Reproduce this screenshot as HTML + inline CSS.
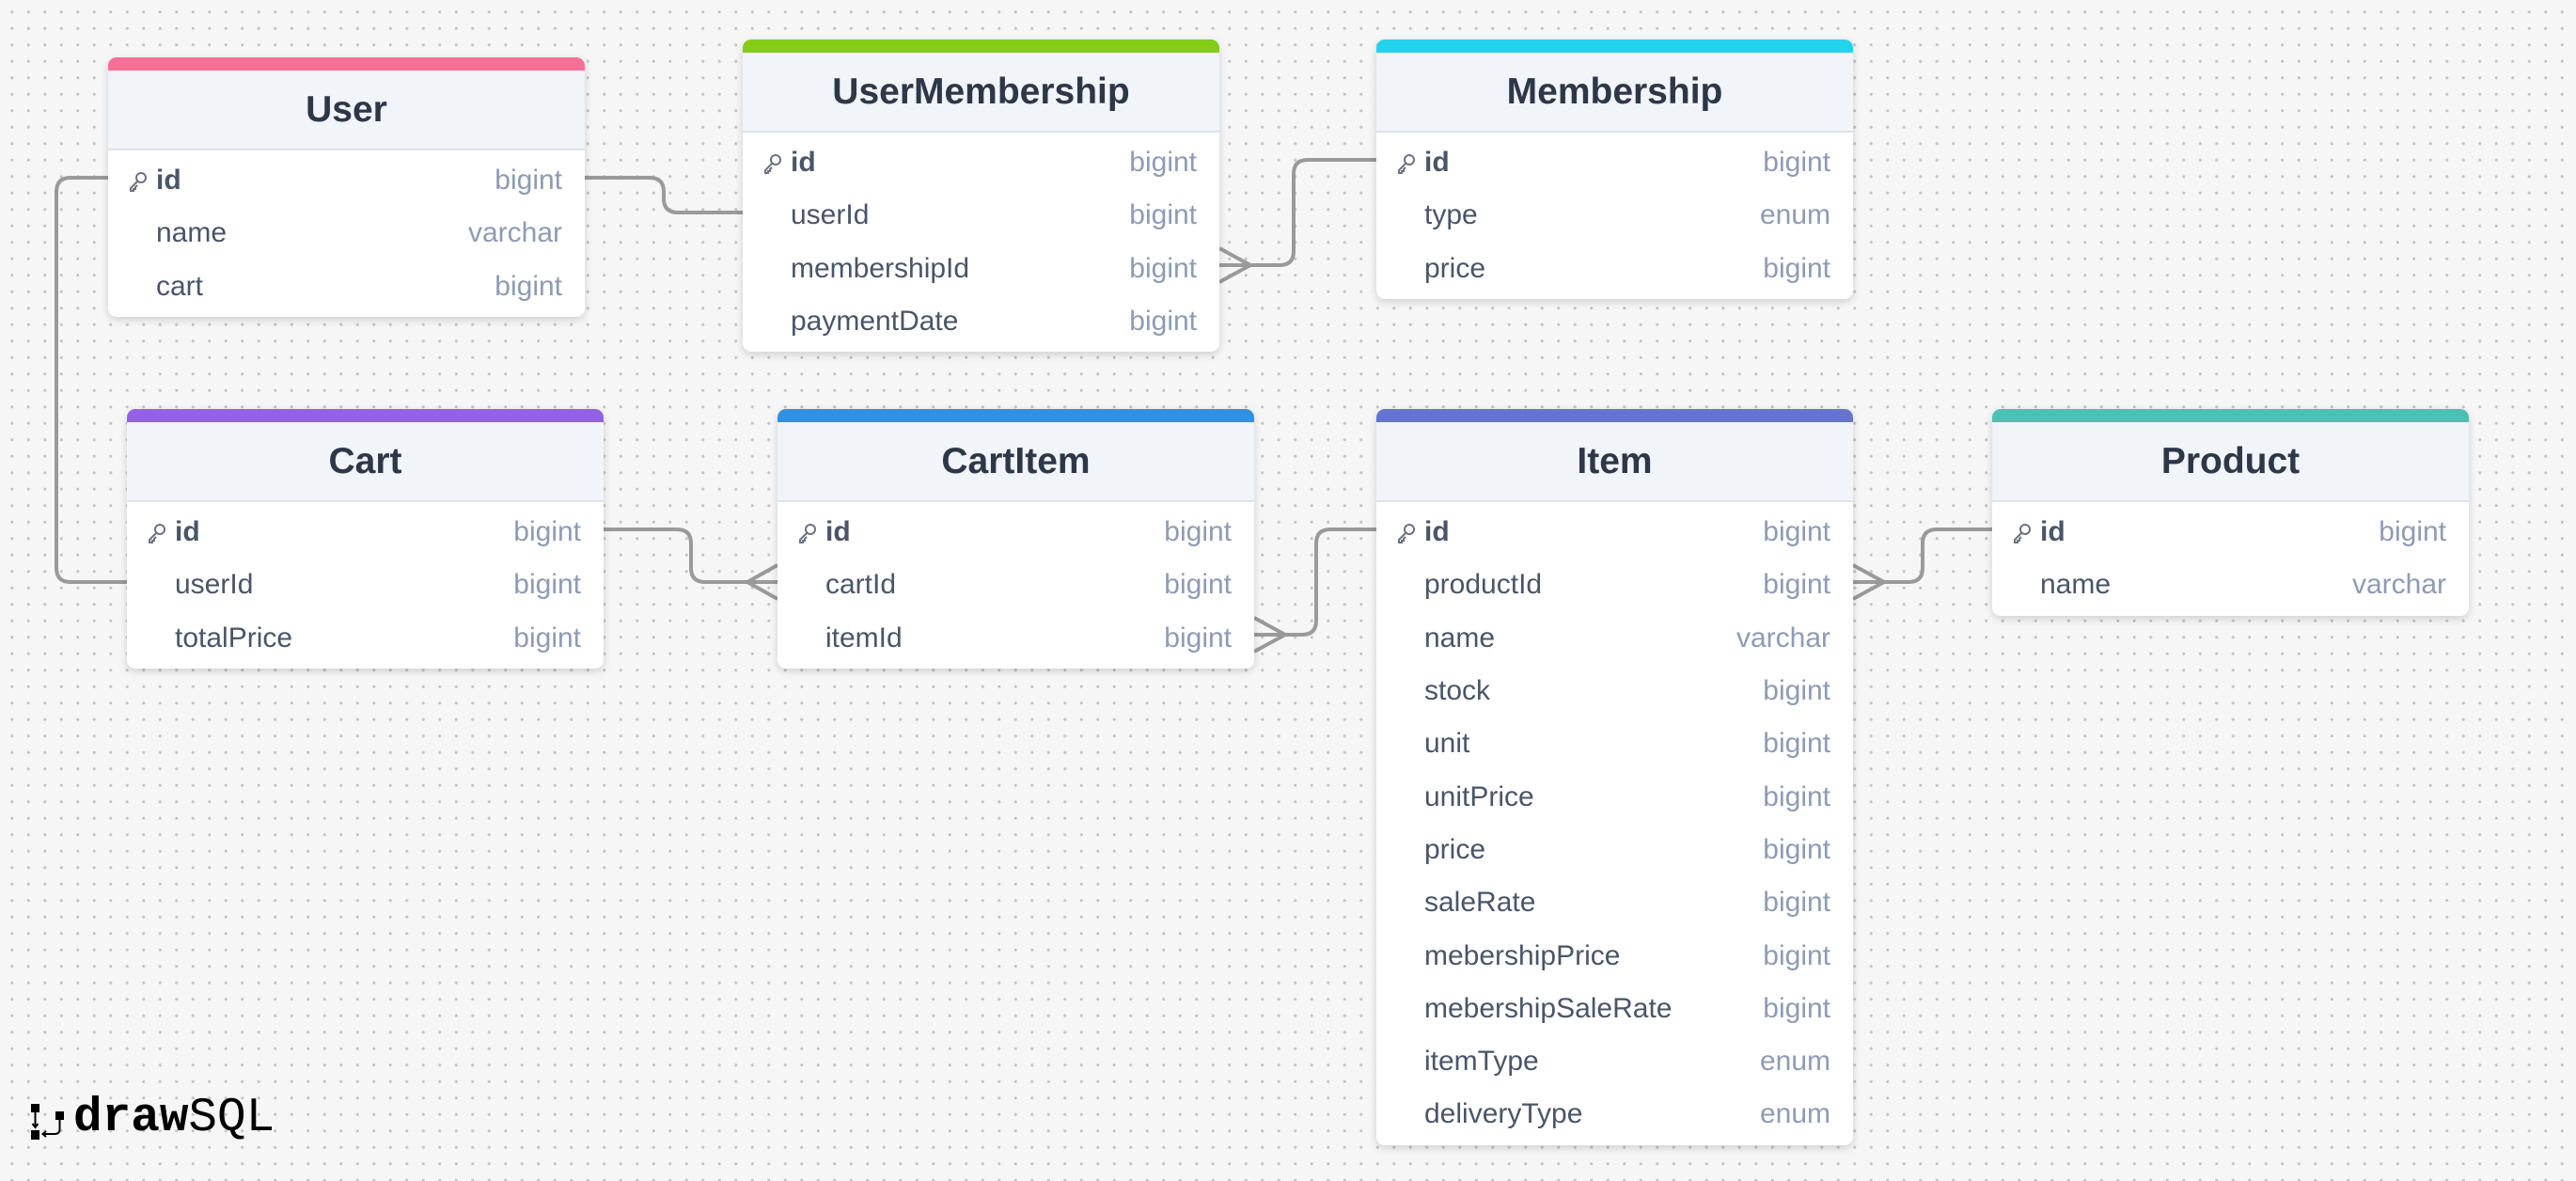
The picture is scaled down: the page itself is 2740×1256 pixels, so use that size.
<!DOCTYPE html>
<html><head><meta charset="utf-8"><style>
*{margin:0;padding:0;box-sizing:border-box}
body{width:2740px;height:1256px;overflow:hidden;background-color:#f6f6f6;background-image:radial-gradient(circle,#c4c4c4 1.4px,transparent 1.8px);background-size:17.5px 17.5px;background-position:4px 4px;font-family:"Liberation Sans",sans-serif;position:relative}
.t{position:absolute;width:507px;background:#fff;border-radius:9px;box-shadow:0 3px 9px rgba(0,0,0,.16);overflow:hidden;padding-bottom:4px}
.bar{height:14px}
.h{height:85px;background:#f1f4f8;border-bottom:2px solid #dde3ec;display:flex;align-items:center;justify-content:center;font-weight:bold;font-size:39px;color:#2d3748;margin-bottom:4px}
.r{height:56.3px;display:flex;align-items:center;padding:0 24px 0 51px;position:relative;font-size:30px;color:#4a5568}
.r .n{flex:1}
.r .ty{color:#8e9bb3}
.r.pk .n{font-weight:bold}
.k{position:absolute;left:20px;top:17px;width:24px;height:24px}
svg.c{position:absolute;left:0;top:0}
</style></head><body>
<svg class="c" width="2740" height="1256" fill="none" stroke="#9a9a9a" stroke-width="4">
<path d="M622,189 H691 Q706,189 706,204 V211 Q706,226 721,226 H790"/>
<path d="M1297,282 H1361 Q1376,282 1376,267 V185 Q1376,170 1391,170 H1464"/>
<path d="M1297,264 L1330,282 L1297,300"/>
<path d="M115,189 H75 Q60,189 60,204 V604 Q60,619 75,619 H135"/>
<path d="M642,563 H720 Q735,563 735,578 V604 Q735,619 750,619 H827"/>
<path d="M827,601 L795,619 L827,637"/>
<path d="M1334,675 H1385 Q1400,675 1400,660 V578 Q1400,563 1415,563 H1464"/>
<path d="M1334,657 L1367,675 L1334,693"/>
<path d="M1971,619 H2030 Q2045,619 2045,604 V578 Q2045,563 2060,563 H2119"/>
<path d="M1971,601 L2004,619 L1971,637"/>
</svg>

<div class="t" style="left:115px;top:61px"><div class="bar" style="background:#f56f97"></div><div class="h">User</div>
<div class="r pk"><svg class="k" viewBox="0 0 24 24" fill="none" stroke="#6b7280" stroke-width="2"><circle cx="15" cy="8" r="5"/><path d="M11.5 11.5 L4 19 L4 22 L7 22 L7 20 L9 20 L9 18 L11 16"/></svg><span class="n">id</span><span class="ty">bigint</span></div>
<div class="r"><span class="n">name</span><span class="ty">varchar</span></div>
<div class="r"><span class="n">cart</span><span class="ty">bigint</span></div></div>

<div class="t" style="left:790px;top:42px"><div class="bar" style="background:#84cc16"></div><div class="h">UserMembership</div>
<div class="r pk"><svg class="k" viewBox="0 0 24 24" fill="none" stroke="#6b7280" stroke-width="2"><circle cx="15" cy="8" r="5"/><path d="M11.5 11.5 L4 19 L4 22 L7 22 L7 20 L9 20 L9 18 L11 16"/></svg><span class="n">id</span><span class="ty">bigint</span></div>
<div class="r"><span class="n">userId</span><span class="ty">bigint</span></div>
<div class="r"><span class="n">membershipId</span><span class="ty">bigint</span></div>
<div class="r"><span class="n">paymentDate</span><span class="ty">bigint</span></div></div>

<div class="t" style="left:1464px;top:42px"><div class="bar" style="background:#22d3ee"></div><div class="h">Membership</div>
<div class="r pk"><svg class="k" viewBox="0 0 24 24" fill="none" stroke="#6b7280" stroke-width="2"><circle cx="15" cy="8" r="5"/><path d="M11.5 11.5 L4 19 L4 22 L7 22 L7 20 L9 20 L9 18 L11 16"/></svg><span class="n">id</span><span class="ty">bigint</span></div>
<div class="r"><span class="n">type</span><span class="ty">enum</span></div>
<div class="r"><span class="n">price</span><span class="ty">bigint</span></div></div>

<div class="t" style="left:135px;top:435px"><div class="bar" style="background:#9461e4"></div><div class="h">Cart</div>
<div class="r pk"><svg class="k" viewBox="0 0 24 24" fill="none" stroke="#6b7280" stroke-width="2"><circle cx="15" cy="8" r="5"/><path d="M11.5 11.5 L4 19 L4 22 L7 22 L7 20 L9 20 L9 18 L11 16"/></svg><span class="n">id</span><span class="ty">bigint</span></div>
<div class="r"><span class="n">userId</span><span class="ty">bigint</span></div>
<div class="r"><span class="n">totalPrice</span><span class="ty">bigint</span></div></div>

<div class="t" style="left:827px;top:435px"><div class="bar" style="background:#3490dc"></div><div class="h">CartItem</div>
<div class="r pk"><svg class="k" viewBox="0 0 24 24" fill="none" stroke="#6b7280" stroke-width="2"><circle cx="15" cy="8" r="5"/><path d="M11.5 11.5 L4 19 L4 22 L7 22 L7 20 L9 20 L9 18 L11 16"/></svg><span class="n">id</span><span class="ty">bigint</span></div>
<div class="r"><span class="n">cartId</span><span class="ty">bigint</span></div>
<div class="r"><span class="n">itemId</span><span class="ty">bigint</span></div></div>

<div class="t" style="left:1464px;top:435px"><div class="bar" style="background:#6574cd"></div><div class="h">Item</div>
<div class="r pk"><svg class="k" viewBox="0 0 24 24" fill="none" stroke="#6b7280" stroke-width="2"><circle cx="15" cy="8" r="5"/><path d="M11.5 11.5 L4 19 L4 22 L7 22 L7 20 L9 20 L9 18 L11 16"/></svg><span class="n">id</span><span class="ty">bigint</span></div>
<div class="r"><span class="n">productId</span><span class="ty">bigint</span></div>
<div class="r"><span class="n">name</span><span class="ty">varchar</span></div>
<div class="r"><span class="n">stock</span><span class="ty">bigint</span></div>
<div class="r"><span class="n">unit</span><span class="ty">bigint</span></div>
<div class="r"><span class="n">unitPrice</span><span class="ty">bigint</span></div>
<div class="r"><span class="n">price</span><span class="ty">bigint</span></div>
<div class="r"><span class="n">saleRate</span><span class="ty">bigint</span></div>
<div class="r"><span class="n">mebershipPrice</span><span class="ty">bigint</span></div>
<div class="r"><span class="n">mebershipSaleRate</span><span class="ty">bigint</span></div>
<div class="r"><span class="n">itemType</span><span class="ty">enum</span></div>
<div class="r"><span class="n">deliveryType</span><span class="ty">enum</span></div></div>

<div class="t" style="left:2119px;top:435px"><div class="bar" style="background:#4dc0b5"></div><div class="h">Product</div>
<div class="r pk"><svg class="k" viewBox="0 0 24 24" fill="none" stroke="#6b7280" stroke-width="2"><circle cx="15" cy="8" r="5"/><path d="M11.5 11.5 L4 19 L4 22 L7 22 L7 20 L9 20 L9 18 L11 16"/></svg><span class="n">id</span><span class="ty">bigint</span></div>
<div class="r"><span class="n">name</span><span class="ty">varchar</span></div></div>

<svg style="position:absolute;left:31px;top:1173px" width="40" height="40" viewBox="0 0 40 40"><rect x="2" y="1" width="9" height="9" fill="#000"/><rect x="2" y="29" width="9" height="10" fill="#000"/><path d="M6.5 10 V25 M3.5 22 L6.5 26 L9.5 22" stroke="#000" stroke-width="2" fill="none"/><rect x="28" y="9" width="9" height="9" fill="#000"/><path d="M32.5 18 V28 Q32.5 33 27 33 H15 M18 30 L14.5 33 L18 36" stroke="#000" stroke-width="2" fill="none"/></svg>
<div style="position:absolute;left:78px;top:1160px;font-family:'Liberation Mono',monospace;font-size:51px;color:#000;line-height:60px"><b>draw</b><span style="font-weight:normal">SQL</span></div>
</body></html>
